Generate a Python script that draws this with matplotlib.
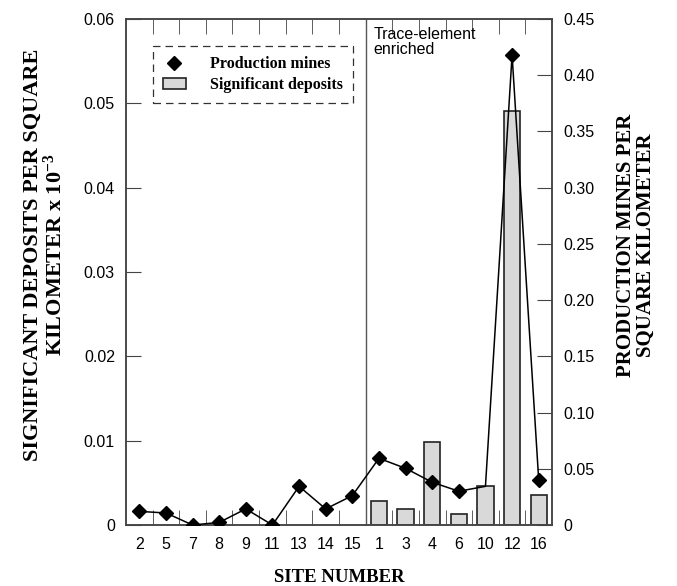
import matplotlib
matplotlib.use("Agg")
import matplotlib.pyplot as plt
from matplotlib.lines import Line2D
from matplotlib.patches import Patch
from matplotlib.transforms import blended_transform_factory

plt.rcParams['font.family'] = 'Liberation Sans'
plt.rcParams['mathtext.fontset'] = 'custom'
plt.rcParams['mathtext.rm'] = 'Liberation Serif:bold'
plt.rcParams['mathtext.default'] = 'rm'

sites = ['2', '5', '7', '8', '9', '11', '13', '14', '15', '1', '3', '4', '6', '10', '12', '16']
# production mines per km2 (right axis)
mines = [0.0121, 0.0107, 0.0, 0.0023, 0.0143, 0.0, 0.0344, 0.0143, 0.0261,
         0.0593, 0.0504, 0.0380, 0.0300, 0.0344, 0.418, 0.0400]
# significant deposits per km2 x 10^-3 (left axis), only trace-element enriched sites
deposits = [0, 0, 0, 0, 0, 0, 0, 0, 0,
            0.00285, 0.0019, 0.0098, 0.00126, 0.00458, 0.0491, 0.0035]

spine_col = '#444444'
serif_bold = dict(family='Liberation Serif', weight='bold')

fig = plt.figure(figsize=(6.77, 5.86), dpi=100)
ax = fig.add_axes([0.1861, 0.1041, 0.6293, 0.8635])
ax2 = ax.twinx()

x = list(range(len(sites)))
bx = [i for i in x if deposits[i] > 0]
bh = [deposits[i] for i in bx]
ax.bar(bx, bh, width=0.61, color='#d9d9d9', edgecolor='#222222', linewidth=1.2, zorder=2)

marks = [i for i in x if sites[i] != '10']
ax2.plot(x, mines, color='black', linewidth=1.1, marker='D', markersize=7.5,
         markevery=marks, zorder=3)

ax.set_xlim(-0.5, 15.5)
ax.set_ylim(0, 0.06)
ax2.set_ylim(0, 0.45)

ax.axvline(8.5, color='#555555', linewidth=1)

ax.set_xticks(x)
ax.set_xticklabels(sites)
ax.set_xticks([k - 0.5 for k in range(1, 16)], minor=True)
ax.tick_params(axis='x', which='major', length=0, pad=9, labelsize=11.5)
ax.tick_params(axis='x', which='minor', direction='in', length=11, top=True,
               bottom=True, color=spine_col)

ax.set_yticks([0, 0.01, 0.02, 0.03, 0.04, 0.05, 0.06])
ax.set_yticklabels(['0', '0.01', '0.02', '0.03', '0.04', '0.05', '0.06'])
ax.tick_params(axis='y', direction='in', length=11, pad=8, labelsize=11.5,
               color=spine_col)

ax2.set_yticks([0, 0.05, 0.1, 0.15, 0.2, 0.25, 0.3, 0.35, 0.4, 0.45])
ax2.set_yticklabels(['0', '0.05', '0.10', '0.15', '0.20', '0.25', '0.30',
                     '0.35', '0.40', '0.45'])
ax2.tick_params(axis='y', direction='in', length=11, pad=8, labelsize=11.5,
                color=spine_col)

for a in (ax, ax2):
    for s in a.spines.values():
        s.set_color(spine_col)
        s.set_linewidth(1.1)

tr = blended_transform_factory(ax.transData, ax.transAxes)
ax.text(8.8, 0.985, 'Trace-element\nenriched', transform=tr, ha='left', va='top',
        fontsize=11.5, linespacing=1.0)

handles = [Line2D([], [], linestyle='none', marker='D', markersize=7.5, color='black'),
           Patch(facecolor='#d9d9d9', edgecolor='#222222', linewidth=1.2)]
leg = ax.legend(handles, ['Production mines', 'Significant deposits'],
                loc='upper left', bbox_to_anchor=(0.063, 0.947), borderaxespad=0,
                prop=dict(family='Liberation Serif', weight='bold', size=11.5),
                frameon=True, fancybox=False, handlelength=1.4, handletextpad=1.5,
                borderpad=0.65, labelspacing=0.3)
frame = leg.get_frame()
frame.set_edgecolor('black')
frame.set_linestyle((0, (6, 4)))
frame.set_linewidth(0.9)
leg.set_zorder(5)

fig.text(339 / 677, 1 - 577 / 586, 'SITE NUMBER', ha='center', va='center',
         fontsize=13.5, **serif_bold)
fig.text(45 / 677, 1 - 255 / 586, 'SIGNIFICANT DEPOSITS PER SQUARE\nKILOMETER x 10$^{-3}$',
         ha='center', va='center', rotation=90, multialignment='center',
         fontsize=16, linespacing=1.05, **serif_bold)
fig.text(636 / 677, 1 - 245 / 586, 'PRODUCTION MINES PER\nSQUARE KILOMETER',
         ha='center', va='center', rotation=90, multialignment='center',
         fontsize=15, linespacing=1.05, **serif_bold)

fig.savefig('out.png', dpi=100)
